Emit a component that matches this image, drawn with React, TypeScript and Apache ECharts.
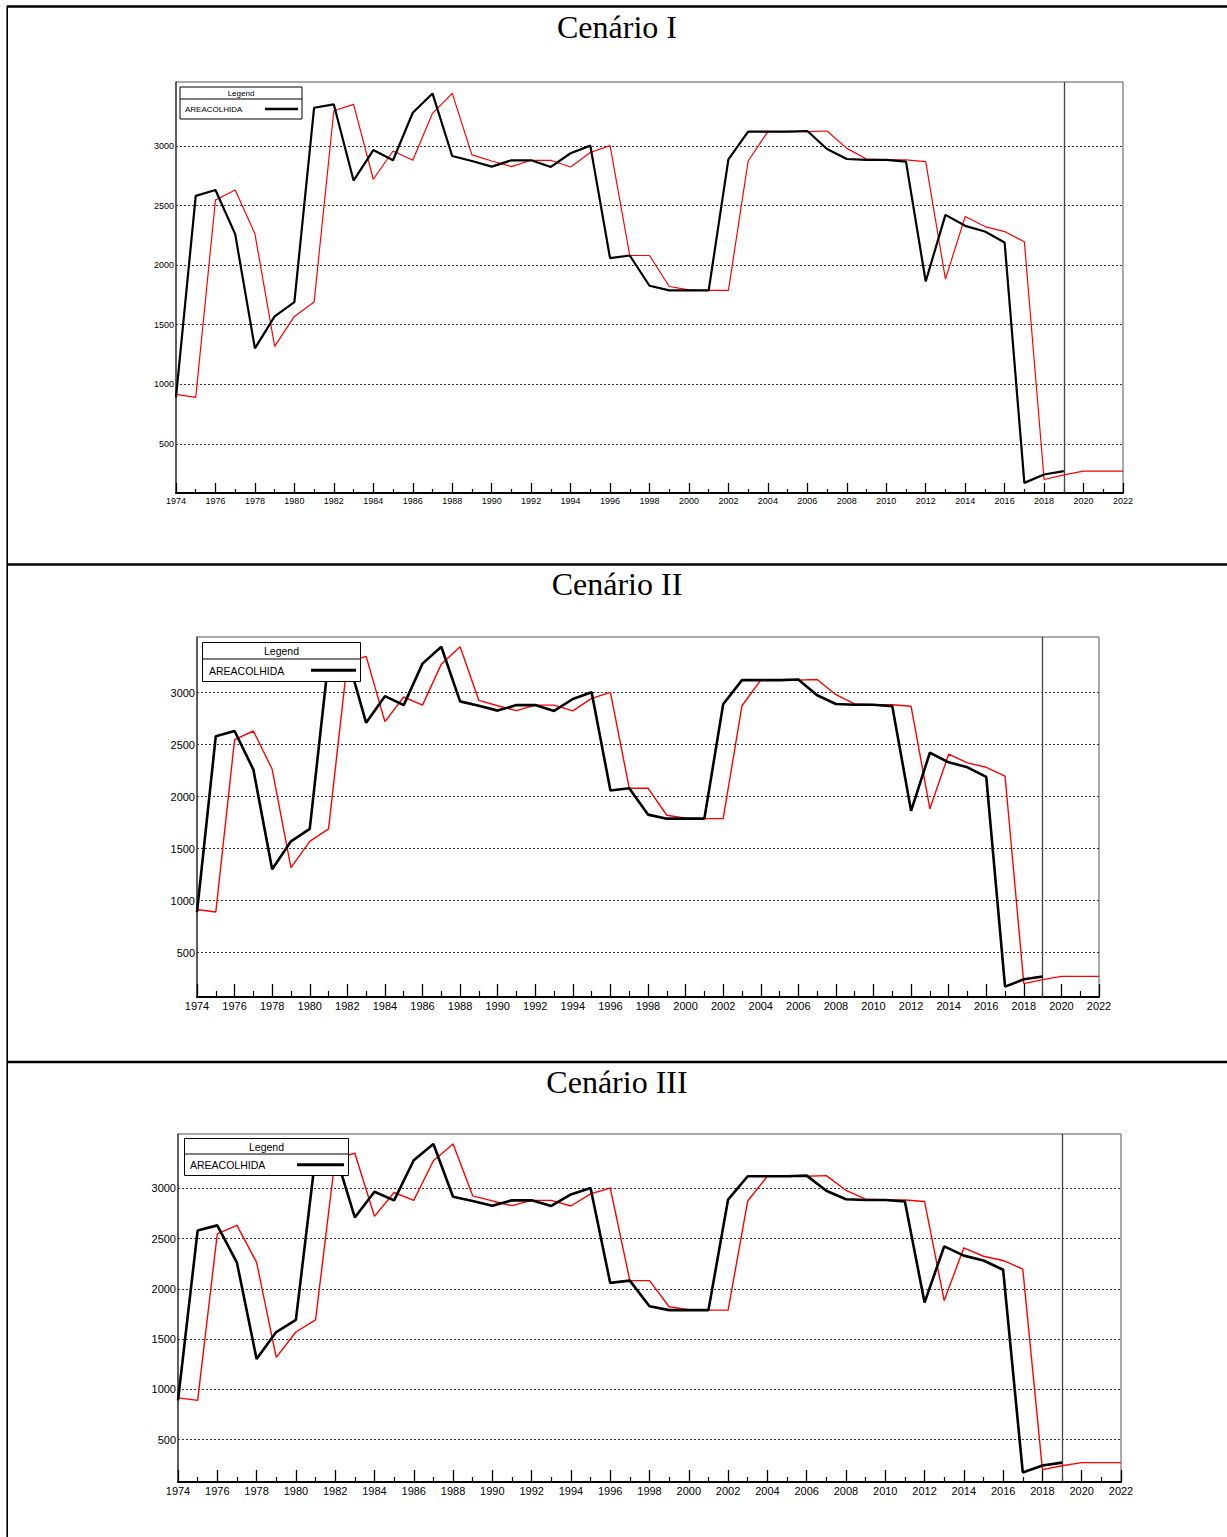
import React, { useEffect, useRef } from "react";
import * as echarts from "echarts";

// ---------- data ----------
const titles = ["Cenário I", "Cenário II", "Cenário III"];
const legendTitle = "Legend";
const seriesName = "AREACOLHIDA";

const years = [
  1974, 1975, 1976, 1977, 1978, 1979, 1980, 1981, 1982, 1983,
  1984, 1985, 1986, 1987, 1988, 1989, 1990, 1991, 1992, 1993,
  1994, 1995, 1996, 1997, 1998, 1999, 2000, 2001, 2002, 2003,
  2004, 2005, 2006, 2007, 2008, 2009, 2010, 2011, 2012, 2013,
  2014, 2015, 2016, 2017, 2018, 2019, 2020, 2021, 2022,
];

// observed AREACOLHIDA, 1974–2019
const observed = [
  890, 2581, 2631, 2260, 1302, 1570, 1690, 3321, 3349, 2710,
  2966, 2880, 3279, 3441, 2916, 2874, 2827, 2880, 2880, 2824,
  2939, 3003, 2059, 2081, 1827, 1788, 1788, 1788, 2888, 3120,
  3120, 3120, 3126, 2975, 2891, 2883, 2883, 2869, 1863, 2422,
  2330, 2282, 2190, 173, 243, 271,
];

// fitted / forecast, 1974–2022
const fitted = [
  915, 890, 2547, 2631, 2263, 1318, 1570, 1690, 3296, 3349,
  2721, 2958, 2880, 3274, 3441, 2925, 2874, 2827, 2880, 2880,
  2824, 2945, 3003, 2081, 2081, 1821, 1793, 1788, 1788, 2874,
  3120, 3120, 3120, 3126, 2980, 2891, 2883, 2883, 2869, 1883,
  2408, 2324, 2282, 2196, 201, 240, 271, 271, 271,
];

const yTicks = [500, 1000, 1500, 2000, 2500, 3000];
const forecastStartYear = 2019;

// ---------- layout ----------
const panels = [
  {
    titleY: 27,
    grid: { left: 176, top: 82, width: 947, height: 411 },
    yMin: 88, yMax: 3537, font: 9,
    legend: { x: 180, y: 87, w: 122, h: 32, div: 12, l1: 265, l2: 298, tx: 185, fs: 8 },
    tickLong: 10, tickShort: 4, bw: 2.2, rw: 1.2,
  },
  {
    titleY: 584,
    grid: { left: 197, top: 637, width: 902, height: 360 },
    yMin: 73, yMax: 3535, font: 11,
    legend: { x: 202.5, y: 642.5, w: 158, h: 39, div: 16.5, l1: 311, l2: 356, tx: 209, fs: 10.5 },
    tickLong: 13, tickShort: 6, bw: 2.6, rw: 1.4,
  },
  {
    titleY: 1082,
    grid: { left: 178, top: 1134, width: 943, height: 348 },
    yMin: 78, yMax: 3540, font: 11,
    legend: { x: 184.5, y: 1138.5, w: 164, h: 37, div: 15.5, l1: 297, l2: 344, tx: 190, fs: 10.5 },
    tickLong: 12, tickShort: 5, bw: 2.6, rw: 1.4,
  },
];

const SANS = "'Liberation Sans', Arial, sans-serif";
const SERIF = "'Liberation Serif', 'Times New Roman', serif";

function buildOption() {
  const grids: any[] = [];
  const xAxes: any[] = [];
  const yAxes: any[] = [];
  const series: any[] = [];
  const graphics: any[] = [];

  // page borders
  graphics.push(
    { type: "line", z: 200, shape: { x1: 7, y1: 6.5, x2: 1227, y2: 6.5 }, style: { stroke: "#000", lineWidth: 2.5 } },
    { type: "line", z: 200, shape: { x1: 7.2, y1: 6, x2: 7.2, y2: 1537 }, style: { stroke: "#000", lineWidth: 1.6 } },
    { type: "line", z: 200, shape: { x1: 7, y1: 564.5, x2: 1227, y2: 564.5 }, style: { stroke: "#000", lineWidth: 2.5 } },
    { type: "line", z: 200, shape: { x1: 7, y1: 1062, x2: 1227, y2: 1062 }, style: { stroke: "#000", lineWidth: 2.5 } }
  );

  panels.forEach((p, i) => {
    grids.push({
      ...p.grid,
      show: true,
      borderColor: "#555",
      borderWidth: 1,
      backgroundColor: "transparent",
      containLabel: false,
    });
    xAxes.push({
      type: "value",
      gridIndex: i,
      min: years[0],
      max: years[years.length - 1],
      interval: 2,
      axisLine: { show: true, lineStyle: { color: "#000", width: 2 } },
      axisTick: { show: true, inside: true, length: p.tickLong, lineStyle: { color: "#000", width: 1.3 } },
      minorTick: { show: true, splitNumber: 2, length: p.tickShort, lineStyle: { color: "#000", width: 1.2 } },
      splitLine: { show: false },
      minorSplitLine: { show: false },
      axisLabel: {
        show: true,
        fontFamily: SANS,
        fontSize: p.font,
        color: "#000",
        margin: 3,
        formatter: (v: number) => String(v),
      },
    });
    yAxes.push({
      type: "value",
      gridIndex: i,
      min: p.yMin,
      max: p.yMax,
      axisLine: { show: true, lineStyle: { color: "#444", width: 1.5 } },
      axisTick: { show: false },
      splitLine: { show: false },
      axisLabel: {
        show: true,
        customValues: yTicks,
        fontFamily: SANS,
        fontSize: p.font,
        color: "#000",
        margin: 2,
        formatter: (v: number) => String(v),
      },
    });

    const markData: any[] = yTicks.map((v) => ({
      yAxis: v,
      lineStyle: { color: "#333", width: 1, type: [2, 2] },
    }));
    markData.push({
      xAxis: forecastStartYear,
      lineStyle: { color: "#444", width: 1.3, type: "solid" },
    });

    series.push({
      type: "line",
      name: "fitted",
      xAxisIndex: i,
      yAxisIndex: i,
      data: years.map((y, k) => [y, fitted[k]]),
      symbol: "none",
      lineStyle: { color: "#ff0000", width: p.rw },
      itemStyle: { color: "#ff0000" },
      z: 3,
      silent: true,
    });
    series.push({
      type: "line",
      name: seriesName,
      xAxisIndex: i,
      yAxisIndex: i,
      data: observed.map((v, k) => [years[k], v]),
      symbol: "none",
      lineStyle: { color: "#000", width: p.bw },
      itemStyle: { color: "#000" },
      z: 4,
      silent: true,
      markLine: {
        silent: true,
        symbol: "none",
        z: 1,
        label: { show: false },
        emphasis: { disabled: true },
        data: markData,
      },
    });

    // title
    graphics.push({
      type: "text",
      z: 200,
      style: {
        text: titles[i],
        x: 617,
        y: p.titleY,
        font: `32px ${SERIF}`,
        fill: "#000",
        textAlign: "center",
        textVerticalAlign: "middle",
      },
    });

    // legend box
    const L = p.legend;
    graphics.push(
      {
        type: "rect",
        z: 150,
        shape: { x: L.x, y: L.y, width: L.w, height: L.h },
        style: { fill: "#fff", stroke: "#000", lineWidth: 1 },
      },
      {
        type: "line",
        z: 151,
        shape: { x1: L.x, y1: L.y + L.div, x2: L.x + L.w, y2: L.y + L.div },
        style: { stroke: "#000", lineWidth: 1 },
      },
      {
        type: "text",
        z: 152,
        style: {
          text: legendTitle,
          x: L.x + L.w / 2,
          y: L.y + L.div / 2 + 0.5,
          font: `${L.fs}px ${SANS}`,
          fill: "#000",
          textAlign: "center",
          textVerticalAlign: "middle",
        },
      },
      {
        type: "text",
        z: 152,
        style: {
          text: seriesName,
          x: L.tx,
          y: L.y + L.div + (L.h - L.div) / 2 + 0.5,
          font: `${L.fs}px ${SANS}`,
          fill: "#000",
          textAlign: "left",
          textVerticalAlign: "middle",
        },
      },
      {
        type: "line",
        z: 152,
        shape: {
          x1: L.l1,
          y1: L.y + L.div + (L.h - L.div) / 2,
          x2: L.l2,
          y2: L.y + L.div + (L.h - L.div) / 2,
        },
        style: { stroke: "#000", lineWidth: p.bw + 0.4 },
      }
    );
  });

  return {
    animation: false,
    backgroundColor: "#fff",
    grid: grids,
    xAxis: xAxes,
    yAxis: yAxes,
    series,
    graphic: { elements: graphics },
    tooltip: { show: false },
    legend: { show: false },
  };
}

export default function App() {
  const ref = useRef<HTMLDivElement>(null);
  useEffect(() => {
    if (!ref.current) return;
    const chart = echarts.init(ref.current, null, { renderer: "svg" });
    chart.setOption(buildOption() as any);
    return () => chart.dispose();
  }, []);
  return (
    <div
      ref={ref}
      style={{ position: "absolute", left: 0, top: 0, width: 1227, height: 1537, background: "#fff" }}
    />
  );
}
